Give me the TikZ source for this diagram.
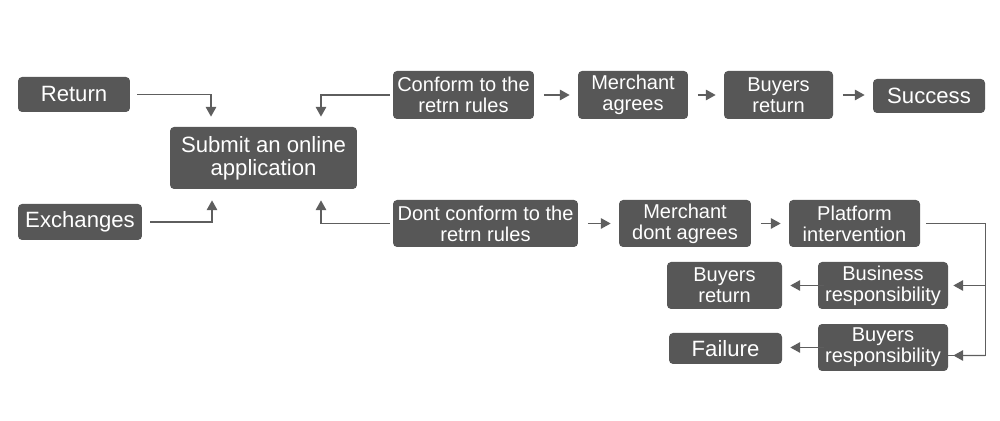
\documentclass[tikz,border=0pt]{standalone}
\usepackage{fontspec}
\setmainfont{Liberation Sans}
\usetikzlibrary{arrows.meta}
\definecolor{boxgray}{HTML}{575757}
\definecolor{linegray}{HTML}{5E5E5E}

\begin{document}
\begin{tikzpicture}[x=0.02cm,y=-0.02cm,
  every node/.style={font=\fontsize{11.4}{12}\selectfont},
  box/.style={fill=boxgray,text=white,rounded corners=2.3pt,inner sep=0pt,align=center},
  bigbox/.style={box,font=\fontsize{12.6}{13.2}\selectfont},
  line/.style={draw=linegray,line width=0.8pt},
  arr/.style={line,-{Triangle[length=5.6pt,width=6pt]},shorten <=0.19cm,shorten >=0.16cm}]
\useasboundingbox (0,0) rectangle (1000,421);
% left side
\node[bigbox,minimum width=2.24cm,minimum height=0.7cm] (ret) at (74,94.5) {Return};
\node[bigbox,minimum width=2.48cm,minimum height=0.72cm] (exch) at (80,222) {Exchanges};
\node[bigbox,minimum width=3.74cm,minimum height=1.24cm] (submit) at (263.5,158) {Submit an online\\application};
% upper row
\node[box,minimum width=2.82cm,minimum height=0.96cm] (conf) at (463.5,95) {Conform to the\\retrn rules};
\node[box,minimum width=2.2cm,minimum height=0.96cm] (magree) at (633,95) {Merchant\\agrees};
\node[box,minimum width=2.18cm,minimum height=0.96cm] (bret) at (778.5,95) {Buyers\\return};
\node[bigbox,minimum width=2.24cm,minimum height=0.68cm] (succ) at (929,96) {Success};
% lower row
\node[box,minimum width=3.7cm,minimum height=0.94cm] (dconf) at (485.5,223.5) {Dont conform to the\\retrn rules};
\node[box,minimum width=2.64cm,minimum height=0.94cm] (mdont) at (685,223.5) {Merchant\\dont agrees};
\node[box,minimum width=2.62cm,minimum height=0.94cm] (plat) at (854.5,223.5) {Platform\\intervention};
\node[box,minimum width=2.6cm,minimum height=0.94cm] (busr) at (883,285.5) {Business\\responsibility};
\node[box,minimum width=2.3cm,minimum height=0.94cm] (bret2) at (724.5,285.5) {Buyers\\return};
\node[box,minimum width=2.6cm,minimum height=0.94cm] (buyr) at (883,347.5) {Buyers\\responsibility};
\node[bigbox,minimum width=2.26cm,minimum height=0.62cm] (fail) at (725.5,348.5) {Failure};
% into the application
\draw[arr,shorten <=0.14cm,shorten >=0.2cm] (ret.east) -| ([xshift=-1.05cm]submit.north);
\draw[arr,shorten <=0.16cm,shorten >=0.22cm] (exch.east) -| ([xshift=-1.03cm]submit.south);
\draw[arr,shorten <=0.06cm,shorten >=0.2cm] (conf.west) -| ([xshift=1.15cm]submit.north);
\draw[arr,shorten <=0.06cm,shorten >=0.22cm] (dconf.west) -| ([xshift=1.15cm]submit.south);
% rows
\draw[arr] (conf) -- (magree);
\draw[arr] (magree) -- (bret);
\draw[arr] (bret.east) -- (succ.west |- bret.east);
\draw[arr] (dconf) -- (mdont);
\draw[arr] (mdont) -- (plat);
\draw[line,shorten <=0.12cm] (plat.east) -- ++(65,0) coordinate (bend) |- ([yshift=-0.16cm]buyr.east);
\draw[arr,shorten <=0cm,shorten >=0.1cm] (bend |- busr.east) -- (busr.east);
\draw[arr,shorten <=0cm,shorten >=0.1cm] (bend |- buyr.east) ++(0,8) -- ([yshift=-0.16cm]buyr.east);
\draw[arr,shorten <=-0.12cm] (busr) -- (bret2);
\draw[arr,shorten <=-0.12cm] (buyr.west) -- (fail.east |- buyr.west);
\end{tikzpicture}
\end{document}
